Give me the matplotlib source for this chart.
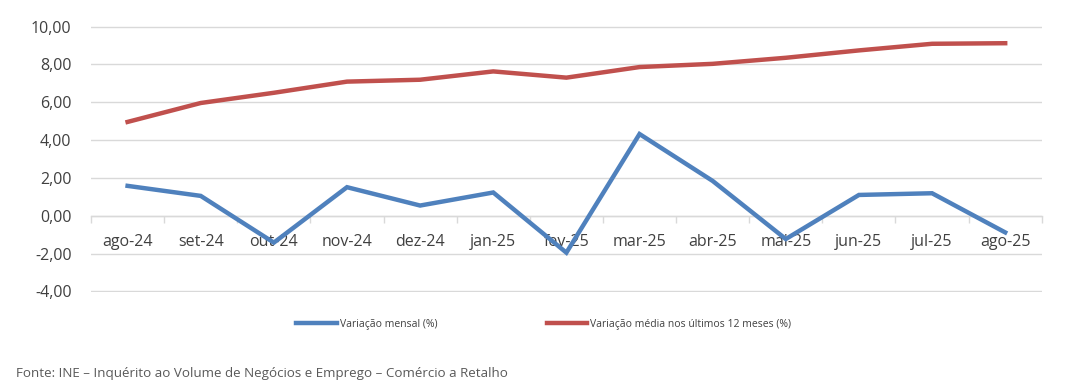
import matplotlib
matplotlib.use("Agg")
import matplotlib.pyplot as plt
from matplotlib.ticker import FuncFormatter, FixedLocator
import numpy as np

categories = ["ago-24", "set-24", "out-24", "nov-24", "dez-24", "jan-25", "fev-25",
              "mar-25", "abr-25", "mai-25", "jun-25", "jul-25", "ago-25"]
variacao_mensal = [1.58, 1.05, -1.42, 1.51, 0.54, 1.23, -1.95, 4.32, 1.84, -1.23, 1.10, 1.19, -0.88]
variacao_media_12m = [4.96, 5.96, 6.50, 7.09, 7.19, 7.63, 7.30, 7.86, 8.03, 8.35, 8.74, 9.09, 9.12]
y_ticks = [-4, -2, 0, 2, 4, 6, 8, 10]
label_mensal = "Variação mensal (%)"
label_media = "Variação média nos últimos 12 meses (%)"
source_text = "Fonte: INE – Inquérito ao Volume de Negócios e Emprego – Comércio a Retalho"

plt.rcParams['font.family'] = ['Open Sans', 'DejaVu Sans']

fig = plt.figure(figsize=(10.81, 3.91), dpi=100)
ax = fig.add_axes([0.0842, 0.2532, 0.8795, 0.6803])

x = np.arange(len(categories))
blue = "#4F81BD"
red = "#C0504D"
ax.plot(x, variacao_mensal, color=blue, lw=3.2, solid_joinstyle='miter', label=label_mensal, zorder=3)
ax.plot(x, variacao_media_12m, color=red, lw=3.2, solid_joinstyle='miter', label=label_media, zorder=3)

ax.set_xlim(-0.5, len(categories) - 0.5)
ax.set_ylim(-4.03, 10.03)
ax.set_yticks(y_ticks)
ax.yaxis.set_major_formatter(FuncFormatter(lambda v, p: f"{v:.2f}".replace(".", ",")))
ax.grid(axis='y', color="#D9D9D9", lw=1.0, zorder=0)
ax.tick_params(axis='y', length=0, pad=14, labelsize=11.5, labelcolor="#404040")

for s in ["left", "right", "top"]:
    ax.spines[s].set_visible(False)
ax.spines["bottom"].set_position(("data", 0))
ax.spines["bottom"].set_color("#D9D9D9")
ax.spines["bottom"].set_linewidth(1.0)

ax.set_xticks(x)
ax.set_xticklabels(categories)
ax.xaxis.set_minor_locator(FixedLocator(np.arange(-0.5, len(categories), 1.0)))
ax.tick_params(axis='x', which='major', length=0, pad=13, labelsize=11.5, labelcolor="#404040")
ax.tick_params(axis='x', which='minor', length=5, direction='out', color="#D9D9D9", width=1.0)

leg = fig.legend(loc='center', bbox_to_anchor=(0.503, 0.171), ncol=2, frameon=False,
                 fontsize=7.5, handlelength=3.9, handletextpad=0.3, columnspacing=10.5)
for t in leg.get_texts():
    t.set_color("#404040")

fig.text(16 / 1081, 1 - 374 / 391, source_text, fontsize=9.6, color="#595959", va='center', ha='left')

fig.savefig("out.png", dpi=100)
